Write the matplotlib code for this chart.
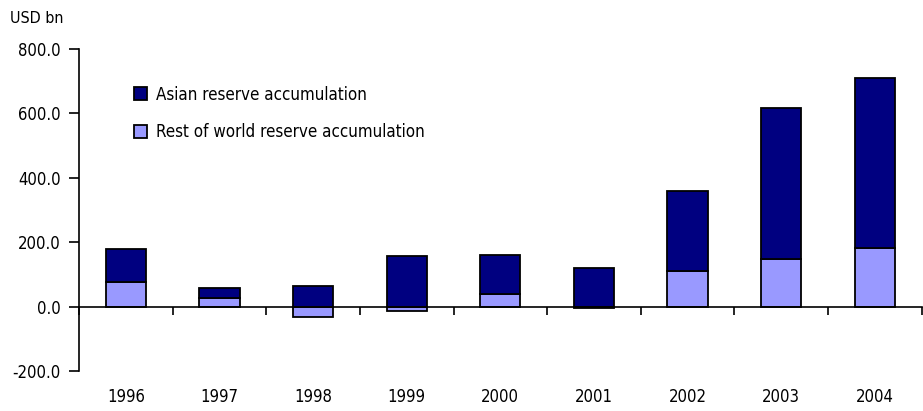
import numpy as np
import matplotlib
matplotlib.use("Agg")
import matplotlib.pyplot as plt
from matplotlib.transforms import blended_transform_factory

plt.rcParams['font.family'] = ['DejaVu Sans']
plt.rcParams['font.stretch'] = 'condensed'

# Datos (USD bn)
years = ["1996", "1997", "1998", "1999", "2000", "2001", "2002", "2003", "2004"]
rest_world = [77, 27, -32, -15, 39, -3, 111, 148, 182]
asia = [102, 30, 64, 156, 121, 121, 247, 468, 527]

dark = "#000080"
light = "#9999FF"

fig = plt.figure(figsize=(9.23, 4.11), dpi=100)
ax = fig.add_axes([0.0856, 0.0973, 0.913, 0.7835])

x = np.arange(len(years))
rest = np.array(rest_world)
base_asia = np.where(rest > 0, rest, 0)

ax.bar(x, rest, width=0.43, color=light, edgecolor="black", linewidth=1.3,
       label="Rest of world reserve accumulation", zorder=2)
ax.bar(x, asia, width=0.43, bottom=base_asia, color=dark, edgecolor="black",
       linewidth=1.3, label="Asian reserve accumulation", zorder=2)

ax.set_xlim(-0.5, len(years) - 0.5)
ax.set_ylim(-200, 800)

ax.spines["top"].set_visible(False)
ax.spines["right"].set_visible(False)
ax.spines["bottom"].set_position(("data", 0))
ax.spines["bottom"].set_zorder(3)
for s in ("left", "bottom"):
    ax.spines[s].set_linewidth(1.2)

ax.set_yticks(np.arange(-200, 801, 200))
ax.set_yticklabels([f"{v:.1f}" for v in np.arange(-200, 801, 200)])
ax.tick_params(axis="y", direction="out", length=7, width=1.2, labelsize=12, pad=6)

ax.set_xticks(np.arange(-0.5, len(years), 1.0))
ax.set_xticklabels([])
ax.tick_params(axis="x", direction="out", length=6, width=1.2)

trans = blended_transform_factory(ax.transData, ax.transAxes)
for i, y in enumerate(years):
    ax.text(i, -0.08, y, transform=trans, ha="center", va="center", fontsize=12)

fig.text(0.011, 0.955, "USD bn", ha="left", va="center", fontsize=11.5)

handles, labels = ax.get_legend_handles_labels()
ax.legend(handles[::-1], labels[::-1], loc="upper left", bbox_to_anchor=(0.047, 0.933),
          frameon=False, fontsize=12.2, handlelength=0.8, handleheight=0.8,
          handletextpad=0.5, labelspacing=1.15)

fig.savefig("out.png", dpi=100)
